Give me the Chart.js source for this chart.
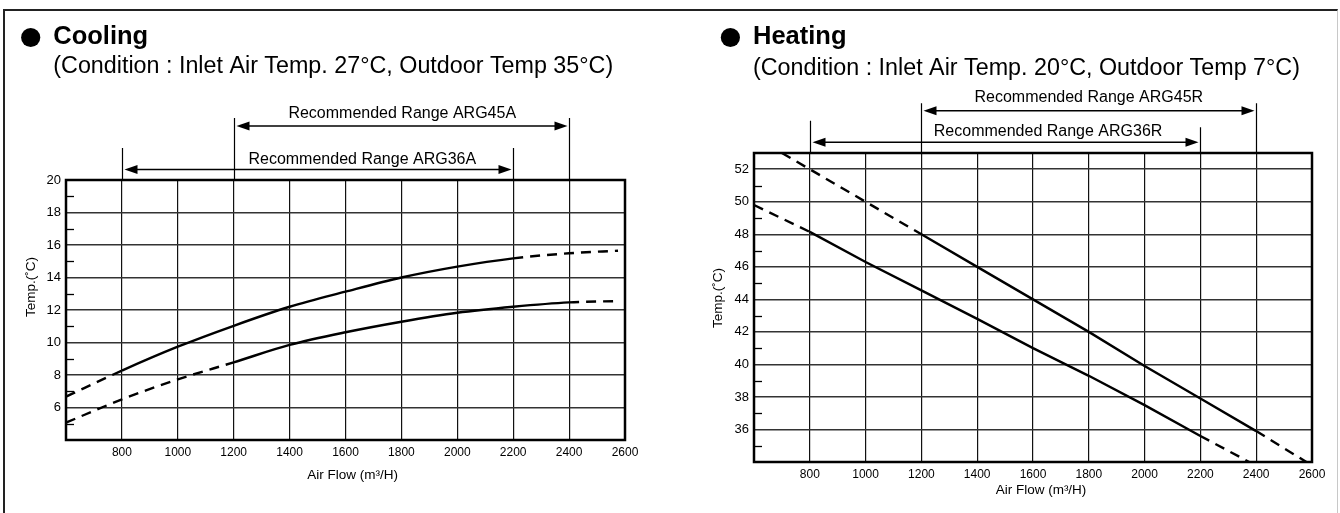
<!DOCTYPE html>
<html>
<head>
<meta charset="utf-8">
<script src="https://cdn.jsdelivr.net/npm/chart.js@4.4.1/dist/chart.umd.min.js"></script>
<style>
  html, body { margin: 0; padding: 0; background: #fff; overflow: hidden; }
  #page { position: relative; width: 1340px; height: 513px; }
  #frame { position: absolute; left: 3px; top: 9px; width: 1332px; height: 520px;
           border-left: 2px solid #222; border-top: 2px solid #222; border-right: 1px solid #c8c8c8; }
  canvas { position: absolute; top: 0; }
  #cool { left: 0; }
  #heat { left: 670px; }
</style>
</head>
<body>
<div id="page">
  <div id="frame"></div>
  <canvas id="cool" width="670" height="513"></canvas>
  <canvas id="heat" width="670" height="513"></canvas>
</div>
<script>
// cooling (inlet 27°C, outdoor 35°C)
const coolFlow = [600, 800, 1000, 1200, 1400, 1600, 1800, 2000, 2200, 2400, 2575];
const coolARG36A = [6.67, 8.27, 9.74, 11.03, 12.2, 13.13, 14.0, 14.67, 15.18, 15.49, 15.65];
const coolARG45A = [5.07, 6.5, 7.73, 8.78, 9.85, 10.63, 11.28, 11.83, 12.2, 12.47, 12.55];
const coolYTicks = [6, 8, 10, 12, 14, 16, 18, 20];

// heating (inlet 20°C, outdoor 7°C)
const heatFlow45 = [700, 800, 1000, 1200, 1400, 1600, 1800, 2000, 2200, 2400, 2580];
const heatARG45R = [53, 52, 50, 48, 46, 44, 42, 39.9, 37.9, 35.9, 34];
const heatFlow36 = [600, 800, 1000, 1200, 1400, 1600, 1800, 2000, 2200, 2375];
const heatARG36R = [49.8, 48.15, 46.3, 44.55, 42.8, 41.0, 39.3, 37.5, 35.6, 34];
const heatYTicks = [36, 38, 40, 42, 44, 46, 48, 50, 52];

const flowTicks = [800, 1000, 1200, 1400, 1600, 1800, 2000, 2200, 2400, 2600];

// recommended ranges
const coolRangeNames = ["Recommended Range ARG45A", "Recommended Range ARG36A"];
const coolRangeFrom = [1200, 800];
const coolRangeTo = [2400, 2200];
const heatRangeNames = ["Recommended Range ARG45R", "Recommended Range ARG36R"];
const heatRangeFrom = [1200, 800];
const heatRangeTo = [2400, 2200];

const FONT = "'Liberation Sans', Arial, Helvetica, sans-serif";
const DASH = [10, 7];

function series(xs, ys, solidFrom, solidTo, tension) {
  return {
    data: xs.map((x, i) => ({ x, y: ys[i] })),
    borderColor: "#000",
    borderWidth: 2.4,
    pointRadius: 0,
    tension: tension,
    cubicInterpolationMode: tension ? "monotone" : "default",
    segment: {
      borderDash: c => (c.p1.parsed.x <= solidFrom || c.p0.parsed.x >= solidTo) ? DASH : undefined
    }
  };
}

function arrowHead(ctx, tipX, y, dir) {
  ctx.beginPath();
  ctx.moveTo(tipX, y);
  ctx.lineTo(tipX - dir * 13, y - 4.5);
  ctx.lineTo(tipX - dir * 13, y + 4.5);
  ctx.closePath();
  ctx.fill();
}

const panelPlugin = {
  id: "panel",
  afterDraw(chart, args, o) {
    const ctx = chart.ctx, a = chart.chartArea, xs = chart.scales.x, ys = chart.scales.y;
    ctx.save();
    ctx.strokeStyle = "#000";
    ctx.fillStyle = "#000";

    // plot frame
    ctx.lineWidth = 2.5;
    ctx.strokeRect(a.left, a.top, a.right - a.left, a.bottom - a.top);

    // minor ticks on the left axis
    ctx.lineWidth = 1.3;
    for (let v = o.minorFrom; v < ys.max; v += 2) {
      const py = Math.round(ys.getPixelForValue(v)) + 0.5;
      ctx.beginPath();
      ctx.moveTo(a.left, py);
      ctx.lineTo(a.left + 8, py);
      ctx.stroke();
    }

    // heading
    ctx.beginPath();
    ctx.arc(o.bulletX, o.titleY - 6.8, 9.6, 0, Math.PI * 2);
    ctx.fill();
    ctx.textAlign = "left";
    ctx.textBaseline = "alphabetic";
    ctx.font = "bold 25.5px " + FONT;
    ctx.fillText(o.title, o.textX, o.titleY);
    ctx.font = "23.3px " + FONT;
    ctx.fillText(o.subtitle, o.textX, o.subY);

    // recommended ranges
    ctx.font = "16px " + FONT;
    ctx.textAlign = "center";
    ctx.textBaseline = "middle";
    o.ranges.forEach(r => {
      const x0 = Math.round(xs.getPixelForValue(r.from)) + 0.5;
      const x1 = Math.round(xs.getPixelForValue(r.to)) + 0.5;
      ctx.lineWidth = 1.2;
      ctx.beginPath();
      ctx.moveTo(x0, a.top); ctx.lineTo(x0, r.topFrom);
      ctx.moveTo(x1, a.top); ctx.lineTo(x1, r.topTo);
      ctx.stroke();
      ctx.lineWidth = 1.4;
      ctx.beginPath();
      ctx.moveTo(x0 + 8, r.arrowY); ctx.lineTo(x1 - 8, r.arrowY);
      ctx.stroke();
      arrowHead(ctx, x0 + 2, r.arrowY, -1);
      arrowHead(ctx, x1 - 2, r.arrowY, 1);
      ctx.fillText(r.name, xs.getPixelForValue(r.labelAt), r.labelY);
    });

    // axis titles
    ctx.font = "13.5px " + FONT;
    ctx.fillText("Air Flow (m³/H)", o.xTitle[0], o.xTitle[1]);
    ctx.translate(o.yTitle[0], o.yTitle[1]);
    ctx.rotate(-Math.PI / 2);
    ctx.fillText("Temp.(˚C)", 0, 0);
    ctx.restore();
  }
};

function makeChart(id, datasets, yMin, yMax, yTicks, box, panel) {
  return new Chart(document.getElementById(id), {
    type: "line",
    data: { datasets },
    plugins: [panelPlugin],
    options: {
      responsive: false,
      animation: false,
      devicePixelRatio: 1,
      layout: { padding: { left: 0, top: box.top, right: box.right, bottom: 0 } },
      plugins: { legend: { display: false }, tooltip: { enabled: false }, panel },
      scales: {
        x: {
          type: "linear",
          min: 600,
          max: 2600,
          afterFit: s => { s.height = box.xHeight; },
          ticks: {
            stepSize: 200,
            autoSkip: false,
            maxRotation: 0,
            padding: 5,
            color: "#000",
            font: { family: FONT, size: 12 },
            callback: v => flowTicks.includes(v) ? String(v) : ""
          },
          grid: { color: "#111", lineWidth: 1.2, drawTicks: false },
          border: { display: false }
        },
        y: {
          type: "linear",
          min: yMin,
          max: yMax,
          afterFit: s => { s.width = box.yWidth; },
          ticks: {
            stepSize: 2,
            autoSkip: false,
            padding: 5,
            color: "#000",
            font: { family: FONT, size: 13 },
            callback: v => yTicks.includes(v) ? String(v) : ""
          },
          grid: {
            color: c => (c.tick && c.tick.value % 2 === 0) ? "#333" : "rgba(0,0,0,0)",
            lineWidth: 1.6,
            drawTicks: false
          },
          border: { display: false }
        }
      }
    }
  });
}

makeChart("cool",
  [series(coolFlow, coolARG36A, 800, 2200, 0.4), series(coolFlow, coolARG45A, 1200, 2400, 0.4)],
  4, 20, coolYTicks,
  { top: 180, right: 45, xHeight: 73, yWidth: 66 },
  {
    title: "Cooling",
    subtitle: "(Condition : Inlet Air Temp. 27°C, Outdoor Temp 35°C)",
    bulletX: 30.7, textX: 53.3, titleY: 44.3, subY: 73.3,
    minorFrom: 5,
    ranges: [
      { name: coolRangeNames[0], from: coolRangeFrom[0], to: coolRangeTo[0], topFrom: 118, topTo: 118, arrowY: 126, labelY: 114, labelAt: 1803 },
      { name: coolRangeNames[1], from: coolRangeFrom[1], to: coolRangeTo[1], topFrom: 148, topTo: 148, arrowY: 169.5, labelY: 159.5, labelAt: 1660 }
    ],
    xTitle: [352.7, 475],
    yTitle: [31, 287]
  });

makeChart("heat",
  [series(heatFlow45, heatARG45R, 1200, 2400, 0), series(heatFlow36, heatARG36R, 800, 2200, 0)],
  34, 53, heatYTicks,
  { top: 153, right: 28, xHeight: 51, yWidth: 84 },
  {
    title: "Heating",
    subtitle: "(Condition : Inlet Air Temp. 20°C, Outdoor Temp 7°C)",
    bulletX: 60.4, textX: 83, titleY: 44.3, subY: 74.5,
    minorFrom: 35,
    ranges: [
      { name: heatRangeNames[0], from: heatRangeFrom[0], to: heatRangeTo[0], topFrom: 103.3, topTo: 103.3, arrowY: 110.7, labelY: 97.3, labelAt: 1800 },
      { name: heatRangeNames[1], from: heatRangeFrom[1], to: heatRangeTo[1], topFrom: 120.7, topTo: 127.3, arrowY: 142.3, labelY: 131.7, labelAt: 1654 }
    ],
    xTitle: [371, 490.7],
    yTitle: [48, 298]
  });
</script>
</body>
</html>
